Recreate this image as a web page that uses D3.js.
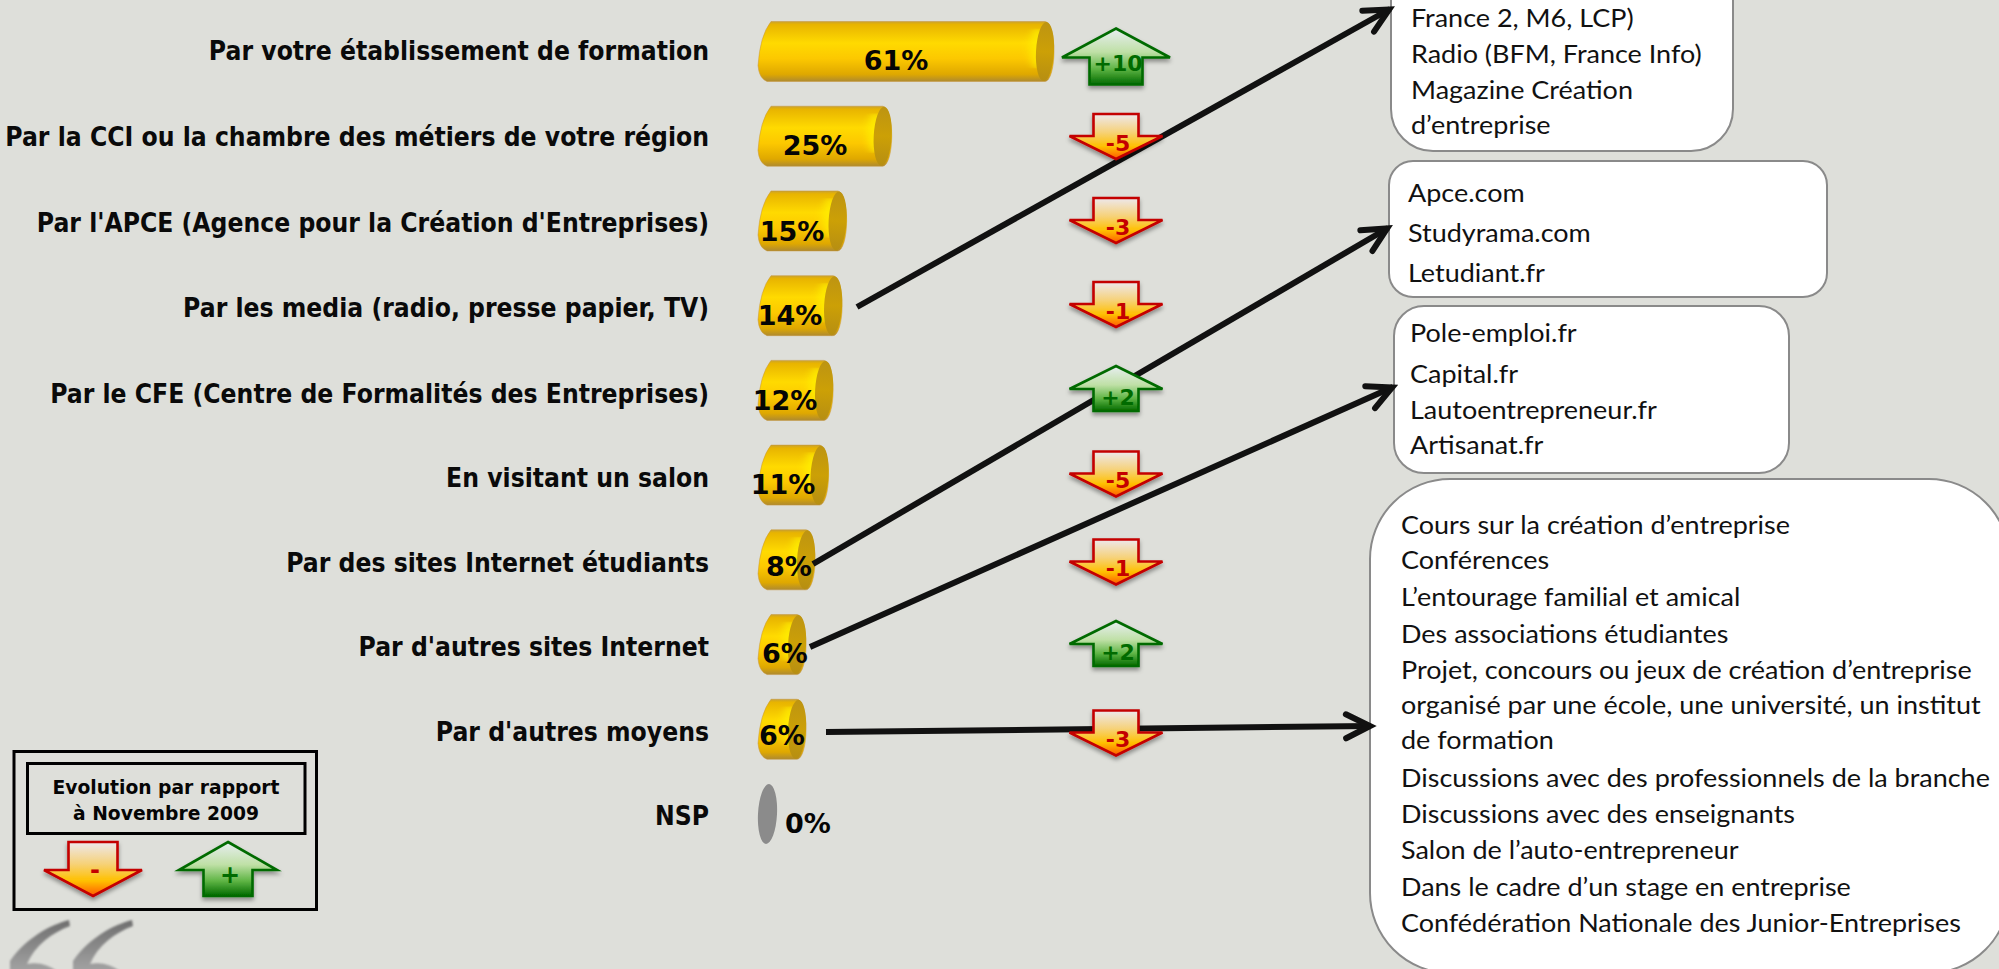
<!DOCTYPE html>
<html lang="fr"><head><meta charset="utf-8">
<script src="https://d3js.org/d3.v7.min.js"></script>
<style>html,body{margin:0;padding:0;background:#DEDFDA;overflow:hidden}svg{display:block}</style>
</head><body><svg id="c" width="1999" height="969"></svg>
<script>
const categories = ["Par votre établissement de formation","Par la CCI ou la chambre des métiers de votre région","Par l'APCE (Agence pour la Création d'Entreprises)","Par les media (radio, presse papier, TV)","Par le CFE (Centre de Formalités des Entreprises)","En visitant un salon","Par des sites Internet étudiants","Par d'autres sites Internet","Par d'autres moyens","NSP"];
const values = [61,25,15,14,12,11,8,6,6,0];
const evolution = [10,-5,-3,-1,2,-5,-1,2,-3,null];
// hand-placed label offsets of the source slide
const valueLabelCenter = [896,815,792,790,785,783,789,785,782,808];
const valueLabelBaseline = [70,155,241,325,410,494,576,663,745,833];
const boxLines = [
 ["France 2, M6, LCP)","Radio (BFM, France Info)","Magazine Création","d’entreprise"],
 ["Apce.com","Studyrama.com","Letudiant.fr"],
 ["Pole-emploi.fr","Capital.fr","Lautoentrepreneur.fr","Artisanat.fr"],
 ["Cours sur la création d’entreprise","Conférences","L’entourage familial et amical","Des associations étudiantes","Projet, concours ou jeux de création d’entreprise","organisé par une école, une université, un institut","de formation","Discussions avec des professionnels de la branche","Discussions avec des enseignants","Salon de l’auto-entrepreneur","Dans le cadre d’un stage en entreprise","Confédération Nationale des Junior-Entreprises"]
];
const boxFrames = [
 {x:1391,y:-80,w:342,h:231,r:42,tx:1411,base:[27,63,99,134]},
 {x:1389,y:161,w:438,h:136,r:24,tx:1408,base:[202,242,282]},
 {x:1394,y:306,w:395,h:167,r:30,tx:1410,base:[342,383,419,454]},
 {x:1370,y:479,w:639,h:494,r:80,tx:1401,base:[534,569,606,643,679,714,749,787,823,859,896,932]}
];
const connectors = [[857,307,1390,9],[813,564,1388,228],[810,647,1393,387],[826,732,1371,726]];
const quoteMarkShift = [0,63];

const svg = d3.select("#c");
const defs = svg.append("defs");
const BOXFONT="Lato,sans-serif", BOLD="'DejaVu Sans',sans-serif";
function grad(id,stops,h){const g=defs.append("linearGradient").attr("id",id).attr("x1",0).attr("y1",0).attr("x2",h?1:0).attr("y2",h?0:1);
 stops.forEach(s=>g.append("stop").attr("offset",s[0]).attr("stop-color",s[1]));}
grad("gold",[[0,"#C9A22E"],[.05,"#E8B400"],[.36,"#FFDA00"],[.62,"#FCC800"],[.88,"#DFA800"],[1,"#AE8A30"]]);
grad("cap",[[0,"#BD9412"],[.5,"#CCA006"],[1,"#B68E12"]]);
grad("down",[[0,"#EDE8EE"],[.4,"#F6D27A"],[.72,"#FFC000"],[1,"#FF5A00"]]);
grad("up",[[0,"#E8EEF2"],[.42,"#BFE0A6"],[.72,"#5FB545"],[1,"#006A00"]]);
grad("quote",[[0,"#6E6E6E"],[1,"#A4A4A4"]]);
const sh=defs.append("filter").attr("id","sh").attr("x","-20%").attr("y","-20%").attr("width","140%").attr("height","150%");
sh.append("feDropShadow").attr("dx",0).attr("dy",3).attr("stdDeviation",2).attr("flood-color","#000").attr("flood-opacity",.38);
const bl=defs.append("filter").attr("id","bl").attr("x","-100%").attr("width","300%");
bl.append("feGaussianBlur").attr("stdDeviation","4 0");
const so=defs.append("filter").attr("id","so");so.append("feGaussianBlur").attr("stdDeviation",.9);
const mk=defs.append("marker").attr("id","head").attr("markerUnits","userSpaceOnUse").attr("orient","auto").attr("markerWidth",50).attr("markerHeight",50).attr("viewBox","-40 -25 50 50").attr("refX",0).attr("refY",0);
mk.append("path").attr("d","M-25,-12 L-1,0 L-25,12").attr("fill","none").attr("stroke","#111").attr("stroke-width",6).attr("stroke-linecap","round").attr("stroke-linejoin","miter");

const idx = categories.map((_,i)=>i);
const y = d3.scalePoint().domain(idx).range([51.5,814]);
const x = d3.scaleLinear().domain([0,61]).range([779,1054]);
const labelY = d3.scaleLinear().domain([0,4,9]).range([60,403,825]);
const arrowY = d3.scaleLinear().domain([0,1,4,5,6,7,8]).range([56.5,136.5,388.5,474,562,643.5,733]);
const H=30, X0=758, CAP=9;

// measure a text's natural width in a given font, to fit it to the slide's widths
const probe = svg.append("text").attr("visibility","hidden");
function naturalWidth(t,fam,size,weight){probe.attr("font-family",fam).attr("font-size",size).attr("font-weight",weight).text(t);return probe.node().getComputedTextLength();}

// callout boxes
const boxG = svg.append("g");
boxG.selectAll("rect").data(boxFrames).join("rect")
 .attr("x",d=>d.x).attr("y",d=>d.y).attr("width",d=>d.w).attr("height",d=>d.h).attr("rx",d=>d.r).attr("ry",d=>d.r)
 .attr("fill","#fff").attr("stroke","#8A8A8A").attr("stroke-width",2);
const BOXK = 589/naturalWidth("Discussions avec des professionnels de la branche",BOXFONT,25,400);
boxFrames.forEach((b,i)=>{
 boxLines[i].forEach((t,j)=>{
  boxG.append("text").attr("transform",`translate(${b.tx},${b.base[j]}) scale(${BOXK},1)`)
   .attr("font-family",BOXFONT).attr("font-size",25).attr("fill","#111").text(t);
 });
});

// category labels
const LABK = 704/naturalWidth(categories[1],BOLD,26,700);
svg.append("g").selectAll("text").data(idx).join("text")
 .attr("transform",i=>`translate(709,${labelY(i)}) scale(${LABK},1)`).attr("text-anchor","end")
 .attr("font-family",BOLD).attr("font-weight",700).attr("font-size",26).attr("fill","#0a0a0a").text(i=>categories[i]);

// quote mark, cut by the slide's lower edge
svg.append("g").selectAll("path").data(quoteMarkShift).join("path")
 .attr("transform",d=>`translate(${d},0)`)
 .attr("d","M69,920 C50,925 26,938 10,961 L10,972 L58,972 Q44,961 27,964 C35,945 52,933 70,926 Z")
 .attr("fill","url(#quote)").attr("filter","url(#so)");

// cylinders
const barG = svg.append("g").selectAll("g").data(idx).join("g");
barG.each(function(i){
 const g=d3.select(this), v=values[i], cy=y(i), top=cy-H, bot=cy+H;
 if(v===0){
  g.append("ellipse").attr("cx",767.5).attr("cy",cy).attr("rx",9.5).attr("ry",H).attr("transform",`rotate(3 767.5 ${cy})`).attr("fill","#8B8B8B");
  return;
 }
 const xr=x(v);
 g.append("path").attr("d",`M${X0+13},${top} L${xr-CAP},${top} A${CAP},${H} 0 0 1 ${xr-CAP},${bot} L${X0+9},${bot} Q${X0+1},${bot-3} ${X0},${cy+14} Q${X0+2},${top+14} ${X0+13},${top} Z`)
  .attr("fill","url(#gold)").attr("stroke","#C8963A").attr("stroke-opacity",.5).attr("stroke-width",1);
 g.append("ellipse").attr("cx",xr-CAP-7).attr("cy",cy-3).attr("rx",CAP-1).attr("ry",H-10).attr("fill","#FFF000").attr("opacity",.8).attr("filter","url(#bl)");
 g.append("ellipse").attr("cx",xr-CAP).attr("cy",cy).attr("rx",CAP).attr("ry",H-.5).attr("transform",`rotate(3 ${xr-CAP} ${cy})`).attr("fill","url(#cap)");
});
// connectors under the evolution arrows
svg.append("g").selectAll("line").data(connectors).join("line")
 .attr("x1",d=>d[0]).attr("y1",d=>d[1]).attr("x2",d=>d[2]).attr("y2",d=>d[3])
 .attr("stroke","#111").attr("stroke-width",6).attr("marker-end","url(#head)");

// value labels
svg.append("g").selectAll("text").data(idx).join("text")
 .attr("x",i=>valueLabelCenter[i]).attr("y",i=>valueLabelBaseline[i]).attr("text-anchor","middle")
 .attr("font-family",BOLD).attr("font-weight",700).attr("font-size",27).attr("fill","#050505").text(i=>values[i]+"%");

// evolution arrows
function arrowPath(up,hw,sw,h,head){ // centred on 0,0
 const t=-h/2,b=h/2;
 return up
  ? `M0,${t} L${hw},${t+head} L${sw},${t+head} L${sw},${b} L${-sw},${b} L${-sw},${t+head} L${-hw},${t+head} Z`
  : `M0,${b} L${hw},${b-head} L${sw},${b-head} L${sw},${t} L${-sw},${t} L${-sw},${b-head} L${-hw},${b-head} Z`;
}
const RED="#C40000", GREEN="#006B00";
const arrowG = svg.append("g").selectAll("g").data(idx.filter(i=>evolution[i]!==null)).join("g")
 .attr("transform",i=>`translate(1116,${arrowY(i)})`);
arrowG.append("path")
 .attr("d",i=>{const e=evolution[i],big=Math.abs(e)>=10;return big?arrowPath(true,54,26.5,56,29):arrowPath(e>0,46.5,22.5,45,23);})
 .attr("fill",i=>evolution[i]>0?"url(#up)":"url(#down)").attr("stroke",i=>evolution[i]>0?GREEN:RED).attr("stroke-width",2.6).attr("stroke-linejoin","miter").attr("filter","url(#sh)");
arrowG.append("text").attr("x",2).attr("y",i=>evolution[i]>0&&evolution[i]<10?16:14).attr("text-anchor","middle")
 .attr("font-family",BOLD).attr("font-weight",700).attr("font-size",22)
 .attr("fill",i=>evolution[i]>0?GREEN:RED).text(i=>(evolution[i]>0?"+":"")+evolution[i]);

// legend
const leg=svg.append("g");
leg.append("rect").attr("x",14).attr("y",751.5).attr("width",302.5).attr("height",158).attr("fill","none").attr("stroke","#000").attr("stroke-width",3);
leg.append("rect").attr("x",27.5).attr("y",763.5).attr("width",277.5).attr("height",70).attr("fill","none").attr("stroke","#000").attr("stroke-width",3);
const LEGK = 227/naturalWidth("Evolution par rapport",BOLD,20,700);
[["Evolution par rapport",794],["à Novembre 2009",820]].forEach(d=>{
 leg.append("text").attr("transform",`translate(166,${d[1]}) scale(${LEGK},1)`).attr("text-anchor","middle").attr("font-family",BOLD).attr("font-weight",700).attr("font-size",20).attr("fill","#050505").text(d[0]);
});
[[93,false,"-",878],[228,true,"+",883]].forEach(d=>{
 const g=leg.append("g").attr("transform",`translate(${d[0]},869)`);
 g.append("path").attr("d",arrowPath(d[1],49,24.5,54,d[1]?28:26)).attr("fill",d[1]?"url(#up)":"url(#down)").attr("stroke",d[1]?GREEN:RED).attr("stroke-width",2.6).attr("filter","url(#sh)");
 g.append("text").attr("x",2).attr("y",d[3]-869).attr("text-anchor","middle").attr("font-family",BOLD).attr("font-weight",700).attr("font-size",24).attr("fill",d[1]?GREEN:RED).text(d[2]);
});
probe.remove();
</script></body></html>
